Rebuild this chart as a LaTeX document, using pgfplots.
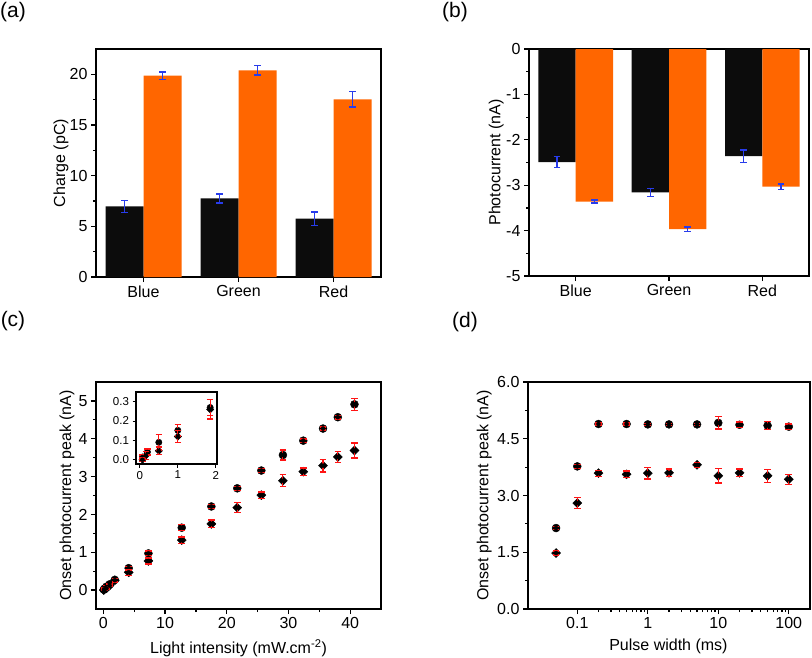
\documentclass[border=0pt]{standalone}
\usepackage{pgfplots}
\pgfplotsset{compat=1.18}
\usepackage{pgfplotstable}
\usepackage{fontspec}
\setmainfont{Liberation Sans}
\definecolor{barblack}{RGB}{12,12,12}
\definecolor{barorange}{RGB}{255,102,0}
\definecolor{errblue}{RGB}{40,60,235}
\definecolor{errred}{RGB}{255,20,20}

\pgfplotstableread{
x y e
0.07 0.014 0.01
0.2 0.04 0.015
0.5 0.09 0.04
1.0 0.152 0.03
1.85 0.27 0.04
4.1 0.58 0.05
7.3 0.97 0.06
12.7 1.65 0.08
17.5 2.21 0.05
21.7 2.69 0.05
25.6 3.16 0.05
29.1 3.57 0.13
32.4 3.95 0.04
35.6 4.27 0.04
38.0 4.57 0.05
40.7 4.91 0.16
}\cCirc
\pgfplotstableread{
x y e
0.07 0.0 0.01
0.16 0.022 0.02
0.5 0.046 0.02
1.0 0.12 0.03
1.85 0.26 0.05
4.1 0.47 0.08
7.3 0.77 0.08
12.7 1.32 0.08
17.5 1.75 0.1
21.7 2.18 0.13
25.6 2.51 0.08
29.1 2.89 0.16
32.4 3.13 0.1
35.6 3.29 0.17
38.0 3.52 0.15
40.7 3.69 0.2
}\cDiam
\pgfplotstableread{
x y e
0.05 2.14 0.04
0.1 3.77 0.05
0.2 4.89 0.03
0.5 4.89 0.03
1 4.88 0.03
2 4.88 0.03
5 4.88 0.03
10 4.92 0.16
20 4.87 0.07
50 4.85 0.1
100 4.82 0.07
}\dCirc
\pgfplotstableread{
x y e
0.05 1.48 0.05
0.1 2.80 0.14
0.2 3.59 0.08
0.5 3.56 0.09
1 3.59 0.15
2 3.60 0.1
5 3.81 0.07
10 3.52 0.19
20 3.60 0.1
50 3.52 0.17
100 3.43 0.13
}\dDiam

\pgfplotsset{
  panel/.style={scale only axis, anchor=north west,
    axis line style={line width=1.6pt},
    every tick/.style={line width=1.2pt, black},
    tick align=outside, tick pos=left,
    major tick length=5pt, minor tick length=3pt,
    ticklabel style={font=\fontsize{16}{18}\selectfont},
    label style={font=\fontsize{16}{18}\selectfont}},
  bluebars/.style={error bars/.cd, y dir=both, y explicit,
    error bar style={errblue, line width=1.5pt},
    error mark options={rotate=90, errblue, mark size=3.3pt, line width=1.5pt}},
  rederr/.style={only marks, mark=none, forget plot,
    error bars/.cd, y dir=both, y explicit,
    error bar style={errred, line width=1.1pt},
    error mark options={rotate=90, errred, mark size=3.3pt, line width=1.3pt}},
  diam/.style={only marks, mark=square*, mark options={rotate=45}, black},
}

\begin{document}
\begin{tikzpicture}
\path[use as bounding box] (0,0) rectangle (812pt,-657pt);
\node[font=\fontsize{21}{24}\selectfont] at (13pt,-12pt) {(a)};
\node[font=\fontsize{21}{24}\selectfont] at (455pt,-12pt) {(b)};
\node[font=\fontsize{21}{24}\selectfont] at (13pt,-321pt) {(c)};
\node[font=\fontsize{21}{24}\selectfont] at (465pt,-322pt) {(d)};

% (a)
\begin{axis}[panel, at={(96pt,-49pt)}, width=285pt, height=228pt,
  xmin=-0.5, xmax=2.5, ymin=0, ymax=22.5,
  xtick={0,1,2}, xticklabels={Blue,Green,Red},
  ytick={0,5,10,15,20}, yticklabels={0,5,10,15,20}, minor y tick num=1,
  ylabel={Charge (pC)},
  ylabel style={at={(axis description cs:-0.123,0.5)}, anchor=center}]
\addplot[ybar, bar width=0.4, bar shift=0, fill=barblack, draw=none, bluebars]
  coordinates {(-0.2,6.97) +- (0,0.6) (0.8,7.75) +- (0,0.45) (1.8,5.75) +- (0,0.68)};
\addplot[ybar, bar width=0.4, bar shift=0, fill=barorange, draw=none, bluebars]
  coordinates {(0.2,19.87) +- (0,0.38) (1.2,20.4) +- (0,0.45) (2.2,17.54) +- (0,0.75)};
\end{axis}

% (b)
\begin{axis}[panel, at={(529pt,-49pt)}, width=280pt, height=227pt,
  xmin=-0.5, xmax=2.5, ymin=-5, ymax=0,
  xtick={0,1,2}, xticklabels={Blue,Green,Red},
  ytick={-5,-4,-3,-2,-1,0}, yticklabels={-5,-4,-3,-2,-1,0}, minor y tick num=1,
  ylabel={Photocurrent (nA)},
  ylabel style={at={(axis description cs:-0.117,0.5)}, anchor=center}]
\addplot[ybar, bar width=0.4, bar shift=0, fill=barblack, draw=none, bluebars]
  coordinates {(-0.2,-2.49) +- (0,0.12) (0.8,-3.16) +- (0,0.09) (1.8,-2.36) +- (0,0.14)};
\addplot[ybar, bar width=0.4, bar shift=0, fill=barorange, draw=none, bluebars]
  coordinates {(0.2,-3.36) +- (0,0.035) (1.2,-3.97) +- (0,0.045) (2.2,-3.03) +- (0,0.06)};
\end{axis}

% (c)
\begin{axis}[panel, clip mode=individual, at={(96pt,-382pt)}, width=285pt, height=227pt,
  xmin=-1.2, xmax=45, ymin=-0.5, ymax=5.5,
  xtick={0,10,20,30,40}, xticklabels={0,10,20,30,40}, minor x tick num=1,
  ytick={0,1,2,3,4,5}, yticklabels={0,1,2,3,4,5}, minor y tick num=1,
  xlabel={Light intensity (mW.cm\textsuperscript{-2})},
  ylabel={Onset photocurrent peak (nA)},
  ylabel style={at={(axis description cs:-0.102,0.5)}, anchor=center},
  xlabel style={at={(axis description cs:0.5,-0.172)}, anchor=center}]
\addplot[only marks, mark=*, mark size=4pt, black] table[x=x,y=y] {\cCirc};
\addplot[diam, mark size=3.2pt] table[x=x,y=y] {\cDiam};
\addplot[rederr] table[x=x,y=y,y error=e] {\cCirc};
\addplot[rederr] table[x=x,y=y,y error=e] {\cDiam};
\end{axis}

% (c) inset
\begin{axis}[scale only axis, clip mode=individual, anchor=north west, at={(136pt,-392pt)}, width=81pt, height=72pt,
  axis background/.style={fill=white},
  axis line style={line width=1.2pt},
  every tick/.style={line width=1pt, black},
  tick align=outside, tick pos=left, major tick length=3.5pt,
  ticklabel style={font=\fontsize{11.5}{13}\selectfont},
  xmin=-0.1, xmax=2.03, ymin=-0.022, ymax=0.35,
  xtick={0,1,2}, xticklabels={0,1,2},
  ytick={0,0.1,0.2,0.3}, yticklabels={0.0,0.1,0.2,0.3}]
\addplot[only marks, mark=*, mark size=3.2pt, black] table[x=x,y=y] {\cCirc};
\addplot[diam, mark size=2.6pt] table[x=x,y=y] {\cDiam};
\addplot[rederr] table[x=x,y=y,y error=e] {\cCirc};
\addplot[rederr] table[x=x,y=y,y error=e] {\cDiam};
\end{axis}

% (d)
\begin{axis}[panel, clip mode=individual, at={(528pt,-382pt)}, width=282pt, height=227pt,
  xmode=log, xmin=0.02, xmax=200, ymin=0, ymax=6,
  xtick={0.1,1,10,100}, xticklabels={0.1,1,10,100},
  ytick={0,1.5,3,4.5,6}, yticklabels={0.0,1.5,3.0,4.5,6.0}, minor y tick num=1,
  xlabel={Pulse width (ms)},
  ylabel={Onset photocurrent peak (nA)},
  ylabel style={at={(axis description cs:-0.155,0.5)}, anchor=center},
  xlabel style={at={(axis description cs:0.498,-0.163)}, anchor=center}]
\addplot[only marks, mark=*, mark size=4pt, black] table[x=x,y=y] {\dCirc};
\addplot[diam, mark size=3.2pt] table[x=x,y=y] {\dDiam};
\addplot[rederr] table[x=x,y=y,y error=e] {\dCirc};
\addplot[rederr] table[x=x,y=y,y error=e] {\dDiam};
\end{axis}
\end{tikzpicture}
\end{document}
